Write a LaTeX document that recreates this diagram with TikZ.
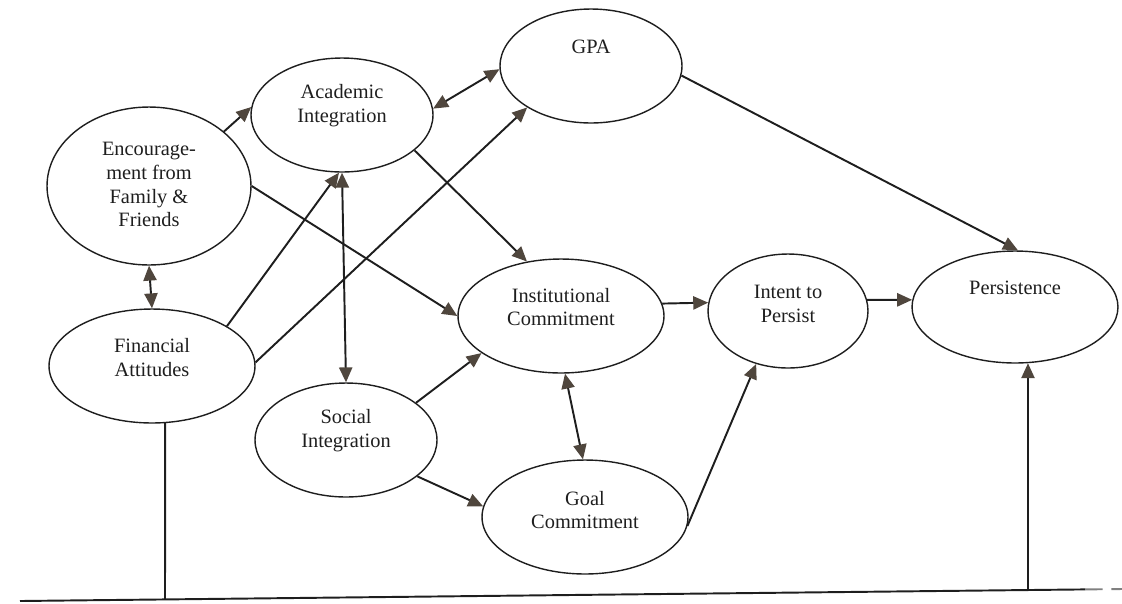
\documentclass[tikz,border=0pt]{standalone}
\usepackage{fontspec}
\setmainfont{Liberation Serif}
\usetikzlibrary{shapes.geometric,arrows.meta}
\definecolor{arrowc}{HTML}{4F463D}
\definecolor{inkc}{HTML}{1E1E1E}
\begin{document}
\begin{tikzpicture}[x=0.02cm,y=-0.02cm,
  oval/.style={ellipse, draw=inkc, line width=0.8pt, inner sep=0pt},
  txt/.style={align=center, font=\fontsize{11.6}{13.6}\selectfont, text=inkc},
  conn/.style={draw=inkc, line width=1.1pt},
  arr/.style={conn, -{Triangle[length=8.5pt,width=7.5pt,color=arrowc]}},
  darr/.style={conn, {Triangle[length=8.5pt,width=7.5pt,color=arrowc]}-{Triangle[length=8.5pt,width=7.5pt,color=arrowc]}},
]
\useasboundingbox (0,0) rectangle (1122,603);

% nodes
\node[oval, minimum width=3.64cm, minimum height=2.28cm,
  label={[txt,name=gpat,yshift=0.38cm]center:GPA}] (gpa) at (591,66) {};
\node[oval, minimum width=3.64cm, minimum height=2.28cm,
  label={[txt,name=acadt,yshift=0.18cm]center:{Academic\\Integration}}] (acad) at (342,115) {};
\node[oval, minimum width=4.08cm, minimum height=3.16cm,
  label={[txt,name=enct,yshift=0.03cm]center:{Encourage-\\ment from\\Family \&\\Friends}}] (enc) at (149,186) {};
\node[oval, minimum width=4.12cm, minimum height=2.28cm,
  label={[txt,name=fint,yshift=0.17cm]center:{Financial\\Attitudes}}] (fin) at (152,366) {};
\node[oval, minimum width=4.12cm, minimum height=2.28cm,
  label={[txt,name=instt,yshift=0.18cm]center:{Institutional\\Commitment}}] (inst) at (561,316) {};
\node[oval, minimum width=3.2cm, minimum height=2.28cm,
  label={[txt,name=intentt,yshift=0.15cm]center:{Intent to\\Persist}}] (intent) at (788,311) {};
\node[oval, minimum width=4.12cm, minimum height=2.24cm,
  label={[txt,name=perst,yshift=0.38cm]center:Persistence}] (pers) at (1015,307) {};
\node[oval, minimum width=3.64cm, minimum height=2.28cm,
  label={[txt,name=soct,yshift=0.19cm]center:{Social\\Integration}}] (soc) at (346,440) {};
\node[oval, minimum width=4.12cm, minimum height=2.28cm,
  label={[txt,name=goalt,yshift=0.14cm]center:{Goal\\Commitment}}] (goal) at (585,517) {};

% connectors
\draw[arr] (enc.36) -- (acad.175);
\draw[darr] (acad.4) -- (gpa.182);
\draw[arr] (fin.28) -- (acad.-93);
\draw[arr] (fin.2) -- (gpa.-147);
\draw[arr] (enc.0) -- (inst.180);
\draw[arr] (acad.-26) -- (inst.122);
\draw[arr] (gpa.-6) -- (pers.87);
\draw[arr] (inst.7) -- (intent.174);
\draw[arr] (intent.8) -- (pers.176);
\draw[arr] (soc.28) -- (inst.-155);
\draw[arr] (soc.-27) -- (goal.174);
\draw[darr] (inst.-86) -- (goal.92);
\draw[arr] (goal.-5) -- (intent.-121);
\draw[darr] (enc.-90) -- (fin.90);
\draw[darr] (acad.-90) -- (soc.90);

% bottom rule and links
\coordinate (bl) at (20,601);
\coordinate (bf) at (165,599.6);
\coordinate (bp) at (1028,590);
\coordinate (be) at (1085,589.4);
\coordinate (br) at (1122,589);
\draw[conn] (fin.-77) -- (bf);
\draw[conn] (bl) -- (be);
\draw[conn, draw=gray, dash pattern=on 10pt off 5pt] (be) -- (br);
\draw[arr] (bp) -- (pers.-77);
\end{tikzpicture}
\end{document}
